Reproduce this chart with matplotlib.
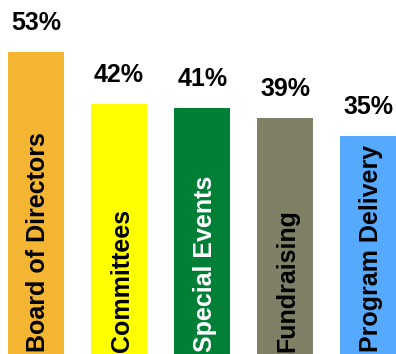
import numpy as np
import matplotlib
matplotlib.use("Agg")
import matplotlib.pyplot as plt

categories = ["Board of Directors", "Committees", "Special Events", "Fundraising", "Program Delivery"]
values = [53, 42, 41, 39, 35]
bar_colors = ["#F4B533", "#FFFF00", "#007F37", "#808066", "#55AAFF"]
text_colors = ["black", "black", "white", "black", "black"]

plt.rcParams['font.family'] = ['Liberation Sans', 'DejaVu Sans']

fig = plt.figure(figsize=(3.96, 3.54), dpi=100)
ax = fig.add_axes([0, 0, 1, 1])

floor = -11.4  # bars start below the visible area
x = np.arange(len(categories))
heights = [v - floor for v in values]
ax.bar(x, heights, bottom=floor, width=0.674, color=bar_colors)

for xi, v, cat, tc in zip(x, values, categories, text_colors):
    ax.annotate(f"{v}%", (xi, v), xytext=(0, 15.8), textcoords="offset points",
                ha="center", va="baseline", fontsize=18, fontweight="bold")
    ax.annotate(cat, (xi, floor), xytext=(0, 1.5), textcoords="offset points",
                rotation=90, rotation_mode="anchor", ha="left", va="center_baseline",
                fontsize=18, fontweight="bold", color=tc)

ax.set_xlim(-0.433, 4.331)
ax.set_ylim(floor, floor + 354 / 4.69)
ax.axis("off")

fig.savefig("out.png", dpi=100)
